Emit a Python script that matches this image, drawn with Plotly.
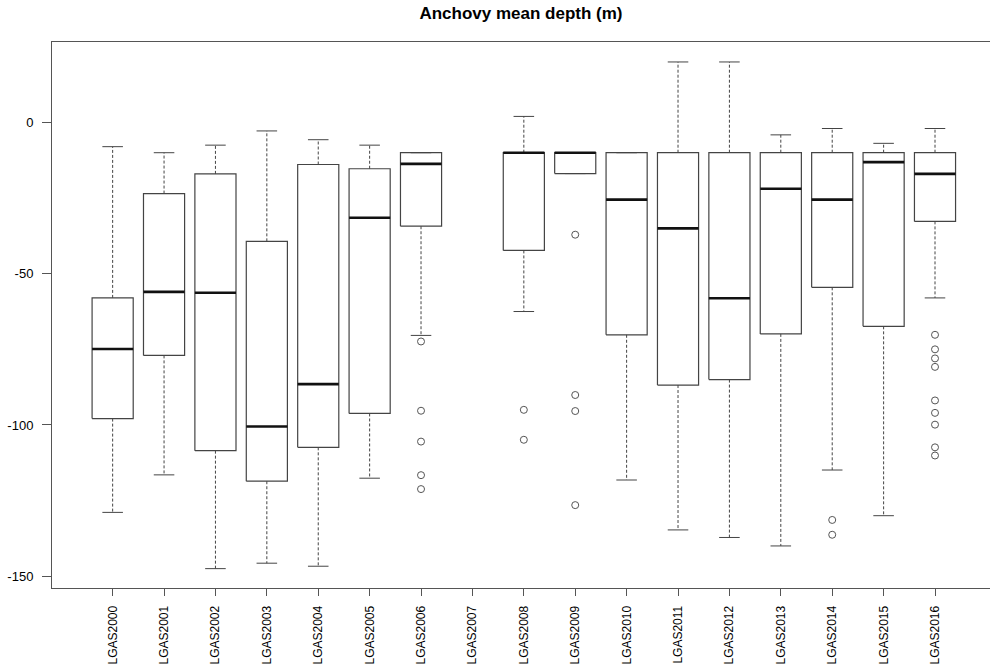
import plotly.graph_objects as go

categories = ["LGAS2000", "LGAS2001", "LGAS2002", "LGAS2003", "LGAS2004", "LGAS2005",
              "LGAS2006", "LGAS2007", "LGAS2008", "LGAS2009", "LGAS2010", "LGAS2011",
              "LGAS2012", "LGAS2013", "LGAS2014", "LGAS2015", "LGAS2016"]

upper = [-8.0, -10.0, -7.5, -2.8, -5.7, -7.5, -10.0, None, 2.0, -10.0, -10.0, 20.0, 20.0, -4.1, -2.0, -6.9, -2.0]
q3 = [-58.0, -23.5, -17.0, -39.3, -13.9, -15.3, -10.0, None, -10.0, -10.0, -10.0, -10.0, -10.0, -10.0, -10.0, -10.0, -10.0]
median = [-74.9, -56.0, -56.3, -100.5, -86.5, -31.5, -13.7, None, -10.0, -10.0, -25.5, -35.0, -58.1, -21.9, -25.5, -13.1, -17.0]
q1 = [-97.9, -77.0, -108.5, -118.6, -107.4, -96.2, -34.3, None, -42.3, -16.9, -70.2, -86.8, -85.0, -69.9, -54.5, -67.4, -32.7]
lower = [-128.9, -116.5, -147.5, -145.7, -146.7, -117.6, -70.4, None, -62.5, -16.9, -118.2, -134.7, -137.2, -140.0, -114.9, -130.0, -58.0]

outliers = {
    "LGAS2006": [-72.4, -95.3, -105.5, -116.6, -121.2],
    "LGAS2008": [-95.0, -104.9],
    "LGAS2009": [-37.1, -90.1, -95.4, -126.5],
    "LGAS2014": [-131.4, -136.3],
    "LGAS2016": [-70.2, -75.0, -78.0, -80.8, -91.9, -96.0, -99.9, -107.4, -110.1],
}

BOXW = 0.4
CAPW = 0.2
pos = {c: i + 1 for i, c in enumerate(categories)}

wx, wy, cx, cy, bx, by, mx, my = [], [], [], [], [], [], [], []
for i, c in enumerate(categories):
    if median[i] is None:
        continue
    p = pos[c]
    wx += [p, p, None, p, p, None]
    wy += [q3[i], upper[i], None, q1[i], lower[i], None]
    cx += [p - CAPW, p + CAPW, None, p - CAPW, p + CAPW, None]
    cy += [upper[i], upper[i], None, lower[i], lower[i], None]
    bx += [p - BOXW, p + BOXW, p + BOXW, p - BOXW, p - BOXW, None]
    by += [q1[i], q1[i], q3[i], q3[i], q1[i], None]
    mx += [p - BOXW, p + BOXW, None]
    my += [median[i], median[i], None]

ox, oy = [], []
for c, vals in outliers.items():
    for v in vals:
        ox.append(pos[c])
        oy.append(v)

fig = go.Figure()
fig.add_trace(go.Scatter(x=wx, y=wy, mode="lines",
                         line=dict(color="#444", width=1, dash="3px,2px"), hoverinfo="skip"))
fig.add_trace(go.Scatter(x=cx, y=cy, mode="lines",
                         line=dict(color="#444", width=1), hoverinfo="skip"))
fig.add_trace(go.Scatter(x=bx, y=by, mode="lines",
                         line=dict(color="#444", width=1.2), hoverinfo="skip"))
fig.add_trace(go.Scatter(x=mx, y=my, mode="lines",
                         line=dict(color="#111", width=2.6), hoverinfo="skip"))
fig.add_trace(go.Scatter(x=ox, y=oy, mode="markers",
                         marker=dict(symbol="circle-open", size=7, color="#555",
                                     line=dict(width=1, color="#555")),
                         hoverinfo="skip"))

font = "Liberation Sans, Arial, sans-serif"
fig.update_layout(
    width=990, height=666,
    margin=dict(l=52, r=0, t=42, b=78),
    plot_bgcolor="white", paper_bgcolor="white",
    showlegend=False,
    hovermode=False,
    font=dict(family=font, size=12, color="black"),
    title=dict(text="<b>Anchovy mean depth (m)</b>", x=0.5, xref="paper",
               y=1 - 13 / 666, yref="container", yanchor="middle",
               font=dict(family=font, size=17, color="black")),
    xaxis=dict(range=[-0.18, 18.07], tickmode="array",
               tickvals=[pos[c] for c in categories], ticktext=categories,
               tickangle=-90, ticks="outside", ticklen=7, tickcolor="#555",
               ticklabelstandoff=5,
               showline=True, linecolor="#555", linewidth=1, mirror=True,
               showgrid=False, zeroline=False, automargin=False,
               tickfont=dict(family=font, size=12, color="black")),
    yaxis=dict(range=[-153.9, 26.6], tickvals=[0, -50, -100, -150],
               ticktext=["0", "-50", "-100", "-150"],
               ticks="outside", ticklen=9, tickcolor="#555",
               ticklabelstandoff=6,
               showline=True, linecolor="#555", linewidth=1,
               showgrid=False, zeroline=False, automargin=False,
               tickfont=dict(family=font, size=13, color="black")),
)

fig.write_html("out.html", config={"displayModeBar": False},
               post_script="document.body.style.margin='0';document.body.style.overflow='hidden';")
